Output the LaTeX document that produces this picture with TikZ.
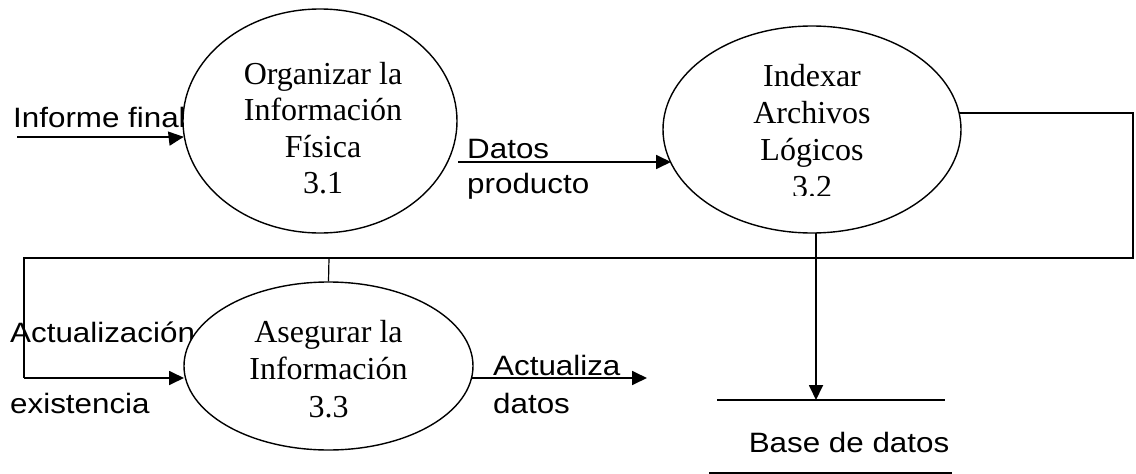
\documentclass[tikz,border=0pt]{standalone}
\usepackage{fontspec}
\setmainfont{Liberation Serif}
\newfontfamily\lblfont{Liberation Sans}[FakeStretch=1.12]
\usetikzlibrary{shapes.geometric,arrows.meta}
\begin{document}
\begin{tikzpicture}[x=1pt,y=-1pt,
  proc/.style={ellipse,draw,line width=1.4pt,fill=white,inner sep=0pt},
  ptext/.style={align=center,inner sep=0pt,anchor=north,font=\fontsize{32}{36.5}\selectfont},
  lbl/.style={inner sep=0pt,anchor=base west,font=\lblfont\fontsize{28}{30}\selectfont},
  flow/.style={line width=1.8pt,-{Triangle[length=15pt,width=14pt]}},
  conn/.style={line width=1.7pt},
  thinconn/.style={line width=1.2pt}]
\useasboundingbox[fill=white] (0,0) rectangle (1136,474);

% labels (drawn first so that the bubbles cover them)
\node[lbl] (l1) at (13,127) {Informe final};
\node[lbl] (l2a) at (467,158) {Datos};
\node[lbl] (l2b) at (467,193) {producto};
\node[lbl] (l3a) at (10,342) {Actualización};
\node[lbl] (l3b) at (10,413) {existencia};
\node[lbl] (l4a) at (493,375) {Actualiza};
\node[lbl] (l4b) at (493,413) {datos};
\node[lbl,anchor=base] (l5) at (849,452) {Base de datos};

% processes
\node[proc,minimum width=274pt,minimum height=224pt] (p1) at (320,121) {};
\node[proc,minimum width=298pt,minimum height=207pt] (p2) at (812,129.5) {};
\node[proc,minimum width=289pt,minimum height=168pt] (p3) at (328.5,366) {};

\node[ptext] (t1) at (323,62) {Organizar la\\Información\\Física\\3.1};
\begin{scope}
  \clip (660,20) rectangle (965,195);
  \node[ptext,font=\fontsize{32}{37}\selectfont] (t2) at (812,64) {Indexar\\Archivos\\Lógicos\\3.2};
\end{scope}
\node[ptext,font=\fontsize{32}{37.5}\selectfont] (t3) at (328.5,320) {Asegurar la\\Información\\3.3};

% data store
\coordinate (s1a) at (717,400);
\coordinate (s1b) at (945,400);
\coordinate (s2a) at (709,473);
\coordinate (s2b) at (952,473);
\draw[thinconn] (s1a) -- (s1b);
\draw[thinconn] (s2a) -- (s2b);

% connectors
\coordinate (in1) at (17,137);
\draw[flow] (in1) -- (p1.west |- in1) -- (p1);
\coordinate (d0) at (458,162);
\coordinate (d1) at (671,162);
\draw[flow] (d0) -- (d1);

\coordinate (r0) at (959,113);
\coordinate (r1) at (1133,113);
\coordinate (r2) at (1133,258);
\coordinate (r3) at (24,258);
\coordinate (r4) at (24,378);
\coordinate (r5) at (184,378);
\draw[conn] (r0) -- (r1) -- (r2) -- (r3) -- (r4);
\draw[flow] (r4) -- (r5);

\coordinate (v0) at (329,258);
\draw[thinconn] (v0) -- (p3.north);

\coordinate (b0) at (816,233);
\coordinate (b1) at (816,400);
\draw[flow] (b0) -- (b1);

\coordinate (o0) at (472,378);
\coordinate (o1) at (647,378);
\draw[flow] (o0) -- (o1);
\end{tikzpicture}
\end{document}
